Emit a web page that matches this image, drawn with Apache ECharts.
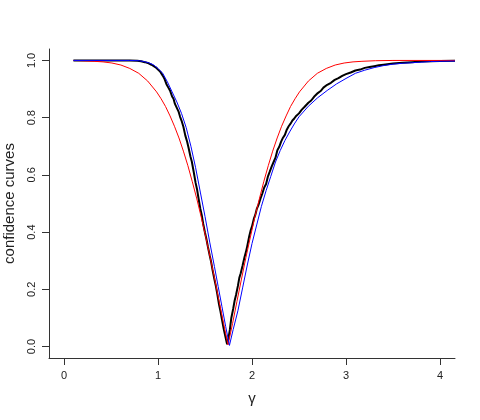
<!DOCTYPE html>
<html>
<head>
<meta charset="utf-8">
<script src="https://cdn.jsdelivr.net/npm/echarts@6/dist/echarts.min.js"></script>
<style>
  html, body { margin: 0; padding: 0; background: #fff; }
  #chart { width: 480px; height: 420px; }
</style>
</head>
<body>
<div id="chart"></div>
<script>
// tick positions
var xTicks = [0, 1, 2, 3, 4];
var yTicks = [0, 0.2, 0.4, 0.6, 0.8, 1.0];

// black: empirical confidence curve [gamma, cc]
var blackCurve = [
  [0.1, 1.0], [0.5, 1.0], [0.7, 1.0], [0.78, 0.999], [0.82, 0.997], [0.86, 0.994], [0.9, 0.99],
  [0.93, 0.985], [0.95, 0.981], [0.975, 0.976], [1.0, 0.968], [1.025, 0.96], [1.05, 0.947],
  [1.07, 0.935], [1.09, 0.917], [1.11, 0.905], [1.13, 0.893], [1.15, 0.874], [1.165, 0.866],
  [1.18, 0.848], [1.2, 0.834], [1.22, 0.82], [1.235, 0.803], [1.25, 0.79], [1.27, 0.768],
  [1.29, 0.738], [1.31, 0.716], [1.325, 0.695], [1.345, 0.664], [1.36, 0.646], [1.38, 0.61],
  [1.4, 0.572], [1.415, 0.55], [1.43, 0.52], [1.45, 0.482], [1.465, 0.46], [1.48, 0.43],
  [1.5, 0.398], [1.515, 0.376], [1.53, 0.35], [1.55, 0.318], [1.565, 0.296], [1.58, 0.268],
  [1.6, 0.235], [1.615, 0.212], [1.63, 0.185], [1.65, 0.146], [1.665, 0.122], [1.68, 0.095],
  [1.7, 0.06], [1.715, 0.038], [1.735, 0.008],
  [1.75, 0.03], [1.765, 0.06], [1.78, 0.1], [1.8, 0.132], [1.815, 0.16], [1.83, 0.18],
  [1.85, 0.212], [1.865, 0.24], [1.88, 0.256], [1.9, 0.283], [1.92, 0.312], [1.935, 0.33],
  [1.95, 0.352], [1.97, 0.385], [1.985, 0.405], [2.0, 0.42], [2.02, 0.447], [2.035, 0.46],
  [2.05, 0.48], [2.07, 0.496], [2.09, 0.517], [2.11, 0.535], [2.13, 0.556], [2.15, 0.568],
  [2.17, 0.595], [2.19, 0.612], [2.21, 0.63], [2.23, 0.645], [2.25, 0.66], [2.27, 0.686],
  [2.29, 0.698], [2.31, 0.716], [2.33, 0.73], [2.35, 0.74], [2.37, 0.758], [2.39, 0.77],
  [2.41, 0.779], [2.43, 0.79], [2.45, 0.797], [2.47, 0.806], [2.5, 0.815], [2.53, 0.828],
  [2.56, 0.838], [2.6, 0.852], [2.63, 0.86], [2.66, 0.873], [2.7, 0.886], [2.73, 0.893],
  [2.76, 0.905], [2.8, 0.915], [2.84, 0.922], [2.88, 0.932], [2.92, 0.938], [2.96, 0.946],
  [3.0, 0.952], [3.05, 0.958], [3.1, 0.965], [3.15, 0.968], [3.2, 0.974], [3.25, 0.977],
  [3.3, 0.98], [3.35, 0.983], [3.4, 0.985], [3.5, 0.989], [3.6, 0.992], [3.7, 0.994],
  [3.8, 0.996], [3.9, 0.997], [4.0, 0.998], [4.16, 0.999]
];

// red curve
var redCurve = [
  [0.1, 1.0], [0.178, 0.999], [0.32, 0.997], [0.415, 0.995], [0.51, 0.991], [0.605, 0.984],
  [0.7, 0.972], [0.795, 0.955], [0.89, 0.928], [0.985, 0.89], [1.033, 0.866], [1.08, 0.839],
  [1.128, 0.806], [1.175, 0.77], [1.223, 0.729], [1.27, 0.683], [1.318, 0.632], [1.365, 0.576],
  [1.413, 0.516], [1.46, 0.452], [1.508, 0.383], [1.555, 0.311], [1.603, 0.236], [1.65, 0.158],
  [1.698, 0.08], [1.745, 0.006],
  [1.793, 0.08], [1.84, 0.158], [1.888, 0.236], [1.935, 0.311], [1.983, 0.383], [2.03, 0.452],
  [2.078, 0.516], [2.125, 0.576], [2.173, 0.632], [2.22, 0.683], [2.268, 0.729], [2.315, 0.77],
  [2.363, 0.806], [2.41, 0.839], [2.458, 0.866], [2.505, 0.89], [2.6, 0.928], [2.695, 0.955],
  [2.79, 0.972], [2.885, 0.984], [2.98, 0.991], [3.075, 0.995], [3.17, 0.997], [3.312, 0.999],
  [3.5, 1.0], [4.16, 1.0]
];

// blue curve
var blueCurve = [
  [0.1, 1.0], [0.7, 1.0], [0.8, 0.999], [0.85, 0.996], [0.9, 0.992], [0.95, 0.985],
  [1.0, 0.972], [1.05, 0.955], [1.1, 0.925], [1.15, 0.89], [1.2, 0.855], [1.25, 0.815],
  [1.3, 0.765], [1.35, 0.7], [1.4, 0.625], [1.45, 0.54], [1.5, 0.455], [1.55, 0.365],
  [1.6, 0.28], [1.64, 0.21], [1.68, 0.14], [1.72, 0.07], [1.76, 0.004],
  [1.8, 0.06], [1.85, 0.125], [1.9, 0.205], [1.95, 0.285], [2.0, 0.36], [2.05, 0.425],
  [2.1, 0.49], [2.15, 0.545], [2.2, 0.595], [2.25, 0.645], [2.3, 0.685], [2.35, 0.72],
  [2.4, 0.75], [2.45, 0.778], [2.5, 0.803], [2.6, 0.84], [2.7, 0.87], [2.8, 0.895],
  [2.9, 0.918], [3.0, 0.937], [3.1, 0.955], [3.2, 0.966], [3.3, 0.975], [3.4, 0.982],
  [3.5, 0.987], [3.6, 0.99], [3.7, 0.992], [3.8, 0.994], [3.9, 0.996], [4.0, 0.997],
  [4.16, 0.998]
];

var chart = echarts.init(document.getElementById("chart"));

var axisFont = { fontFamily: "Liberation Sans", fontSize: 11, color: "#222" };

var option = {
  animation: false,
  grid: { left: 49, right: 25, top: 49, bottom: 62, outerBoundsMode: "none", containLabel: false },
  xAxis: {
    type: "value",
    min: -0.16,
    max: 4.16,
    name: "γ",
    nameLocation: "middle",
    nameGap: 33,
    nameTextStyle: { fontFamily: "Liberation Sans", fontSize: 15, color: "#222" },
    splitLine: { show: false },
    axisLine: { onZero: false, lineStyle: { color: "#333", width: 1 } },
    axisTick: { show: true, length: 7, customValues: xTicks, lineStyle: { color: "#333" } },
    axisLabel: Object.assign({ margin: 12, customValues: xTicks }, axisFont)
  },
  yAxis: {
    type: "value",
    min: -0.04,
    max: 1.04,
    name: "confidence curves",
    nameLocation: "middle",
    nameGap: 32,
    nameTextStyle: { fontFamily: "Liberation Sans", fontSize: 15, color: "#222" },
    splitLine: { show: false },
    axisLine: { show: true, onZero: false, lineStyle: { color: "#333", width: 1 } },
    axisTick: { show: true, length: 7, customValues: yTicks, lineStyle: { color: "#333" } },
    axisLabel: Object.assign({
      margin: 12,
      rotate: 90,
      customValues: yTicks,
      formatter: function (v) { return v.toFixed(1); }
    }, axisFont)
  },
  series: [
    {
      type: "line", data: blackCurve, showSymbol: false, silent: true,
      lineStyle: { color: "#000", width: 2 }, z: 2
    },
    {
      type: "line", data: redCurve, showSymbol: false, silent: true,
      lineStyle: { color: "#ff0000", width: 1 }, z: 3
    },
    {
      type: "line", data: blueCurve, showSymbol: false, silent: true,
      lineStyle: { color: "#0000ff", width: 1 }, z: 4
    }
  ]
};

chart.setOption(option);
</script>
</body>
</html>
